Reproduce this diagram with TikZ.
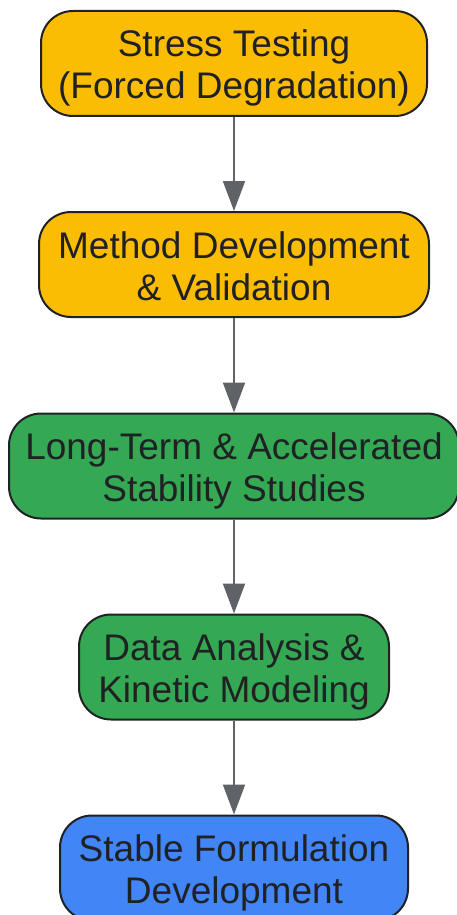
\documentclass[tikz,border=0pt]{standalone}
\usepackage{fontspec}
\setmainfont{Liberation Sans}
\usetikzlibrary{arrows.meta}
\definecolor{stageorange}{HTML}{FBBC04}
\definecolor{stagegreen}{HTML}{34A853}
\definecolor{stageblue}{HTML}{4285F4}
\definecolor{edgegray}{HTML}{5F6368}
\definecolor{inkdark}{HTML}{202124}
\newcommand{\stagetext}[2]{\rule{0pt}{40pt}#1\\#2\rule[-11pt]{0pt}{11pt}}

\begin{document}
\begin{tikzpicture}[x=1pt,y=-1pt]
\tikzstyle{stage}=[draw=inkdark, line width=2pt, rounded corners=32pt, align=center, text=inkdark, font=\fontsize{37}{42}\selectfont, inner sep=0pt, minimum height=105pt]
\tikzstyle{flow}=[draw=edgegray, line width=2pt, -{Triangle[width=22pt,length=30pt]}]
\useasboundingbox (0,0) rectangle (456,915);
\node [stage, fill=stageorange, minimum width=386pt] (stress) at (234,63.5) {\stagetext{Stress Testing}{(Forced Degradation)}};
\node [stage, fill=stageorange, minimum width=390pt] (method) at (234,264.5) {\stagetext{Method Development}{\& Validation}};
\node [stage, fill=stagegreen, minimum width=450pt] (longterm) at (234,466) {\stagetext{Long-Term \& Accelerated}{Stability Studies}};
\node [stage, fill=stagegreen, minimum width=310pt] (analysis) at (234,667) {\stagetext{Data Analysis \&}{Kinetic Modeling}};
\node [stage, fill=stageblue, minimum width=348pt] (formulation) at (234,868) {\stagetext{Stable Formulation}{Development}};
\draw [flow] (stress) -- (method);
\draw [flow] (method) -- (longterm);
\draw [flow] (longterm) -- (analysis);
\draw [flow] (analysis) -- (formulation);
\end{tikzpicture}
\end{document}
